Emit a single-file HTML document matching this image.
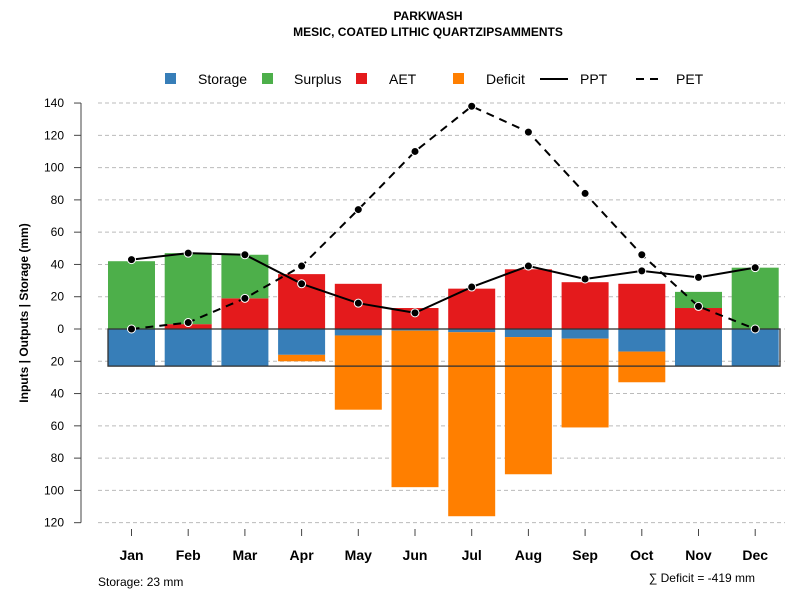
<!DOCTYPE html>
<html><head><meta charset="utf-8"><style>
body{margin:0;background:#fff;font-family:"Liberation Sans",sans-serif}
svg text{font-family:"Liberation Sans",sans-serif}
</style></head><body>
<svg id="c" width="800" height="600" xmlns="http://www.w3.org/2000/svg"></svg>
<script>
const months=["Jan","Feb","Mar","Apr","May","Jun","Jul","Aug","Sep","Oct","Nov","Dec"];
const storage=[23,23,23,16,4,1,2,5,6,14,23,23];
const deficit=[0,0,0,4,46,97,114,85,55,19,0,0];
const aet=[0,3,19,34,28,13,25,37,29,28,13,0];
const surplus=[42,44,27,0,0,0,0,0,0,0,10,38];
const ppt=[43,47,46,28,16,10,26,39,31,36,32,38];
const pet=[0,4,19,39,74,110,138,122,84,46,14,0];
const yTicks=[140,120,100,80,60,40,20,0,-20,-40,-60,-80,-100,-120];
const storageCap=23;
const NS="http://www.w3.org/2000/svg";
const svg=document.getElementById('c');
const y=v=>329-v*1.614;
const x=i=>131.5+i*56.7;
const bw=47;
function el(t,a,p){const e=document.createElementNS(NS,t);for(const k in a)e.setAttribute(k,a[k]);(p||svg).appendChild(e);return e;}
function tx(s,a){const e=el('text',a);e.textContent=s;return e;}
yTicks.forEach(v=>{
 const g=el('line',{x1:98,x2:785,y1:y(v),y2:y(v),stroke:'#bbb','stroke-dasharray':'4,3'});
 
 el('line',{x1:74,x2:81,y1:y(v),y2:y(v),stroke:'#444'});
 const t=tx(Math.abs(v),{x:64,y:y(v)+4,'text-anchor':'end','font-size':12});
 
});
el('line',{x1:81,x2:81,y1:y(140),y2:y(-120),stroke:'#444'});
months.forEach((m,i)=>{
 const l=x(i)-bw/2;
 const r=(y0,y1,c,n)=>{if(y1===y0)return;const e=el('rect',{x:l,y:Math.min(y(y0),y(y1)),width:bw,height:Math.abs(y(y1)-y(y0)),fill:c});};
 r(0,-storage[i],'#377eb8','storage-bar-'+m.toLowerCase());
 r(-storage[i],-storage[i]-deficit[i],'#ff7f00','deficit-bar-'+m.toLowerCase());
 r(0,aet[i],'#e41a1c','aet-bar-'+m.toLowerCase());
 r(aet[i],aet[i]+surplus[i],'#4daf4a','surplus-bar-'+m.toLowerCase());
 el('line',{x1:x(i),x2:x(i),y1:529,y2:536,stroke:'#444'});
 const t=tx(m,{x:x(i),y:560,'text-anchor':'middle','font-size':14,'font-weight':'bold'});
 
});
const box=el('rect',{x:108,y:y(0),width:672,height:y(-storageCap)-y(0),fill:'none',stroke:'#333','stroke-width':1.3});

function line(d,dash,n){
 const p=el('polyline',{points:d.map((v,i)=>x(i)+','+y(v)).join(' '),fill:'none',stroke:'#000','stroke-width':2,'stroke-dasharray':dash});
 
 d.forEach((v,i)=>{const c=el('circle',{cx:x(i),cy:y(v),r:4,fill:'#000',stroke:'#fff','stroke-width':1});});
}
line(pet,'8,6','pet');
line(ppt,'none','ppt');
let t=tx('PARKWASH',{x:428,y:20,'text-anchor':'middle','font-size':12,'font-weight':'bold'});
t=tx('MESIC, COATED LITHIC QUARTZIPSAMMENTS',{x:428,y:36,'text-anchor':'middle','font-size':12,'font-weight':'bold'});
t=tx('Inputs | Outputs | Storage    (mm)',{x:0,y:0,transform:'translate(28,313) rotate(-90)','text-anchor':'middle','font-size':12,'font-weight':'bold','xml:space':'preserve'});
t=tx('Storage: 23 mm',{x:98,y:586,'font-size':12});
t=tx('∑ Deficit = -419 mm',{x:755,y:582,'text-anchor':'end','font-size':12});
const leg=[['Storage','#377eb8',165,198],['Surplus','#4daf4a',262,294],['AET','#e41a1c',356,389],['Deficit','#ff7f00',453,486]];
leg.forEach(([n,c,sx,tx0])=>{
 const g=el('g',{});
 el('rect',{x:sx,y:73,width:11,height:11,fill:c},g);
 const e=el('text',{x:tx0,y:84,'font-size':14},g);e.textContent=n;
});
[['PPT',540,580,'none'],['PET',636,676,'8,6']].forEach(([n,x1,tx0,d])=>{
 const g=el('g',{});
 el('line',{x1:x1,x2:x1+28,y1:79,y2:79,stroke:'#000','stroke-width':2,'stroke-dasharray':d},g);
 const e=el('text',{x:tx0,y:84,'font-size':14},g);e.textContent=n;
});
</script>
</body></html>
